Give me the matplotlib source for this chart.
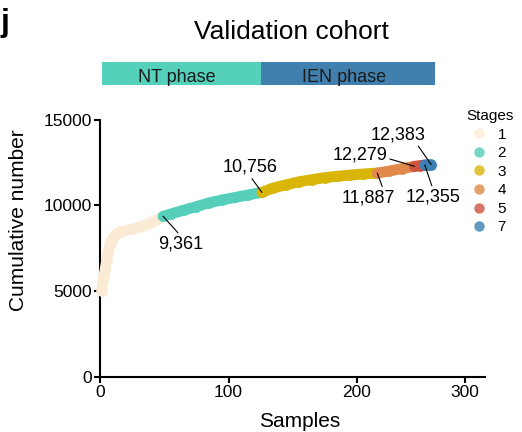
import matplotlib
matplotlib.use("Agg")
import matplotlib.pyplot as plt
from matplotlib.lines import Line2D

plt.rcParams['font.family'] = ['Liberation Sans', 'DejaVu Sans']

# cumulative number per sample, split by stage
s1_x = [1, 2, 3, 4, 5, 6, 7, 8, 9, 10, 12, 15, 20, 25, 30, 35, 40, 45, 49]
s1_y = [5000, 5600, 5950, 6350, 6800, 7250, 7550, 7800, 7980, 8120, 8300, 8440,
        8540, 8620, 8720, 8840, 9000, 9180, 9361]
s2_x = [49, 55, 65, 75, 85, 95, 105, 115, 126]
s2_y = [9361, 9500, 9720, 9930, 10150, 10320, 10460, 10610, 10756]
s3_x = [126, 135, 145, 155, 165, 175, 185, 195, 205, 216]
s3_y = [10756, 11020, 11200, 11380, 11500, 11620, 11700, 11770, 11830, 11887]
s4_x = [216, 225, 235, 245]
s4_y = [11887, 12000, 12140, 12279]
s5_x = [245, 249, 253]
s5_y = [12279, 12320, 12355]
s7_x = [253, 254, 256, 258]
s7_y = [12355, 12365, 12375, 12383]

stages = ['1', '2', '3', '4', '5', '7']
stage_colors = ['#FCEBD4', '#55CFBA', '#D9B508', '#E0894A', '#CF5440', '#3C80B1']
series = [(s1_x, s1_y), (s2_x, s2_y), (s3_x, s3_y), (s4_x, s4_y), (s5_x, s5_y), (s7_x, s7_y)]

phases = ['NT phase', 'IEN phase']
phase_edges = [1, 125, 261]
phase_colors = ['#55D0BB', '#4180AE']

# labelled points: (x, y, text offset in points, arrow relpos)
labels_x = [49, 126, 216, 245, 253, 258]
labels_y = [9361, 10756, 11887, 12279, 12355, 12383]
label_offsets = [(12.5, -23.3), (-8.6, 14.8), (-6.1, -21.0), (-39.5, 5.1), (5.8, -26.3), (-23.6, 18.1)]
label_relpos = [(0.5, 1), (0.5, 0), (0.77, 1), (1, 0.3), (0.5, 1), (0.83, 0)]

fig = plt.figure(figsize=(5.22, 4.32), dpi=100)
ax = fig.add_axes([100.3 / 522, 1 - 376.7 / 432, (485 - 100.3) / 522, (376.7 - 119.7) / 432])

for (xs, ys), c in zip(series, stage_colors):
    ax.plot(xs, ys, color=c, lw=7.8, solid_capstyle='round', solid_joinstyle='round',
            marker='o', ms=7.8, mec='none', clip_on=False, zorder=3)

for x, y, off, rp in zip(labels_x, labels_y, label_offsets, label_relpos):
    ax.annotate(f"{y:,}", xy=(x, y), xytext=off, textcoords='offset points',
                ha='center', va='baseline', fontsize=13, zorder=5,
                arrowprops=dict(arrowstyle='-', color='black', lw=0.8,
                                shrinkA=0, shrinkB=0, relpos=rp))

ax.set_xlim(0, 300)
ax.set_ylim(0, 15000)
ax.set_xticks([0, 100, 200, 284.5])
ax.set_xticklabels(['0', '100', '200', '300'])
ax.set_yticks([0, 5000, 10000, 15000])
for s in ['top', 'right']:
    ax.spines[s].set_visible(False)
for s in ['left', 'bottom']:
    ax.spines[s].set_linewidth(1.5)
ax.tick_params(width=1.5, length=4.5, labelsize=12.5, pad=1.5)
ax.set_xlabel('Samples', fontsize=15)
ax.set_ylabel('Cumulative number', fontsize=15)
ax.xaxis.set_label_coords(0.519, -0.138)
ax.yaxis.set_label_coords(-0.187, 0.61)

# phase bar above the plot
bar = fig.add_axes([100.3 / 522, 1 - 85 / 432, (485 - 100.3) / 522, 22.7 / 432])
for i, (name, c) in enumerate(zip(phases, phase_colors)):
    left, right = phase_edges[i], phase_edges[i + 1]
    bar.barh(0, right - left, left=left, height=1, color=c)
    bar.text((left + right) / 2 - 3, -0.35, name, ha='center', va='baseline',
             fontsize=13, color='#1a1a1a')
bar.set_xlim(0, 300)
bar.set_ylim(-0.5, 0.5)
bar.axis('off')

fig.text(291 / 522, 1 - 39.3 / 432, 'Validation cohort', ha='center', va='baseline', fontsize=19)
fig.text(0, 1 - 31 / 432, 'j', ha='left', va='baseline', fontsize=23, fontweight='bold')

handles = [Line2D([], [], ls='none', marker='o', ms=7.5, mec='none', color=c, alpha=0.8)
           for c in stage_colors]
leg = ax.legend(handles, stages, title='Stages', loc='upper left',
                bbox_to_anchor=(466 / 522, 1 - 109 / 432), bbox_transform=fig.transFigure,
                frameon=False, fontsize=11, title_fontsize=11, handlelength=0.8,
                handletextpad=0.8, labelspacing=0.3, borderaxespad=0, borderpad=0)

fig.savefig('out.png', dpi=100)
